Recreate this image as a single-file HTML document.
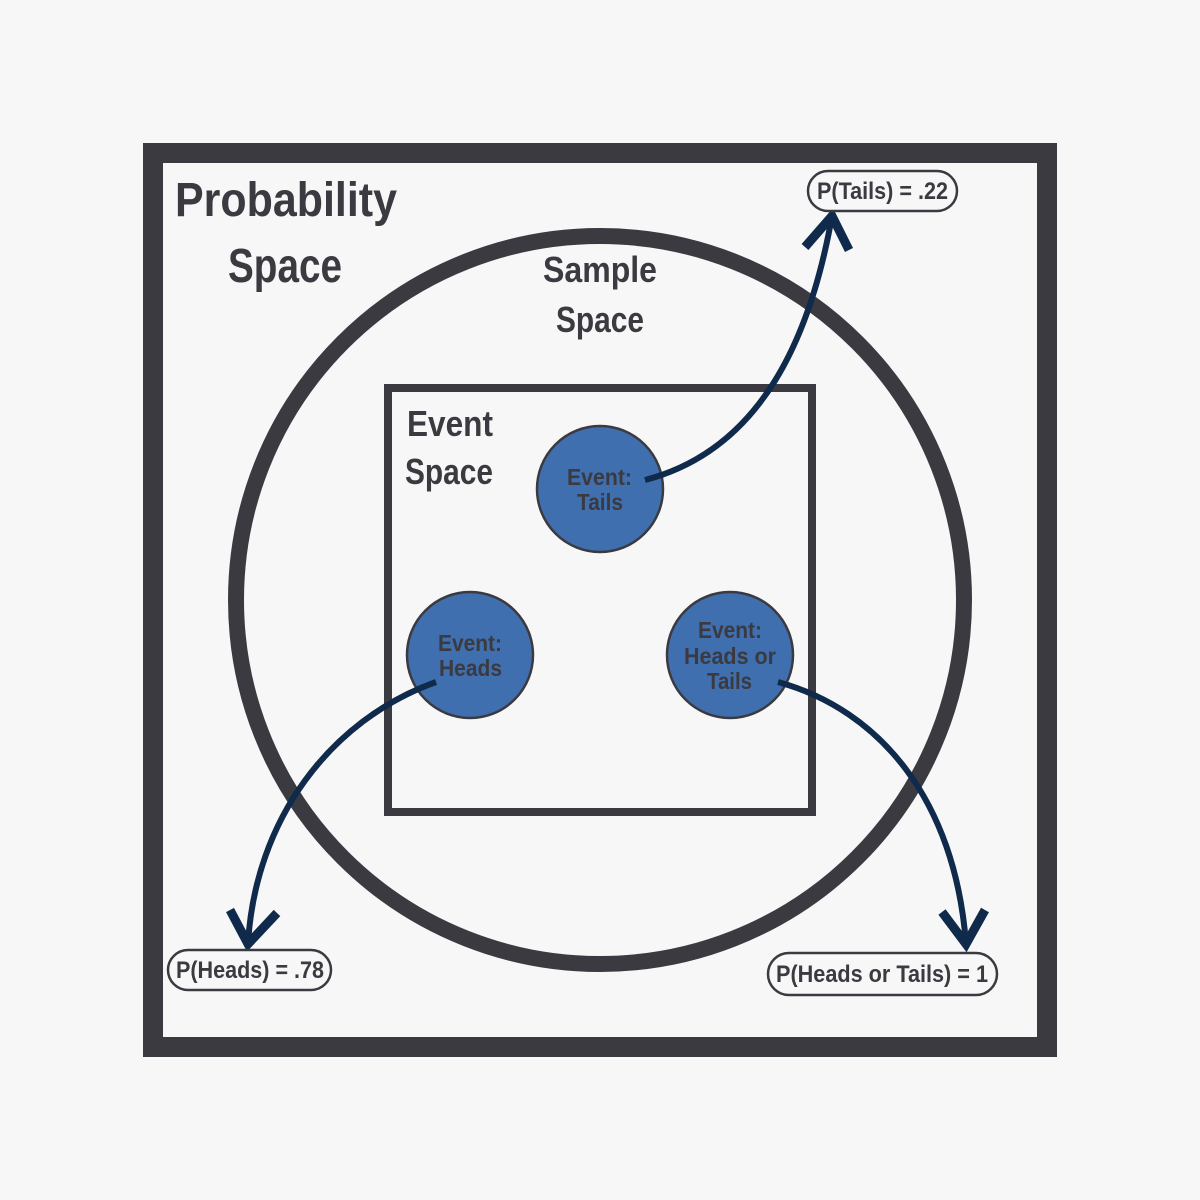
<!DOCTYPE html>
<html><head><style>
html,body{margin:0;padding:0;background:#f8f7f8;}
svg{display:block;}
text{font-family:"Liberation Sans",sans-serif;font-weight:bold;fill:#3a3a40;}
</style></head><body>
<svg width="1200" height="1200" viewBox="0 0 1200 1200" xmlns="http://www.w3.org/2000/svg">
<rect width="1200" height="1200" fill="#f8f7f8"/>
<rect x="153" y="153" width="894" height="894" fill="none" stroke="#3a3a40" stroke-width="20"/>
<circle cx="600" cy="600" r="364" fill="none" stroke="#3a3a40" stroke-width="16"/>
<rect x="388" y="388" width="424" height="424" fill="none" stroke="#3a3a40" stroke-width="8"/>
<g lengthAdjust="spacingAndGlyphs">
<text x="175" y="216" font-size="48" textLength="222" lengthAdjust="spacingAndGlyphs">Probability</text>
<text x="228" y="282" font-size="48" textLength="114" lengthAdjust="spacingAndGlyphs">Space</text>
<text x="543" y="282" font-size="36" textLength="114" lengthAdjust="spacingAndGlyphs">Sample</text>
<text x="556" y="332" font-size="36" textLength="88" lengthAdjust="spacingAndGlyphs">Space</text>
<text x="407" y="436" font-size="36" textLength="86" lengthAdjust="spacingAndGlyphs">Event</text>
<text x="405" y="484" font-size="36" textLength="88" lengthAdjust="spacingAndGlyphs">Space</text>
</g>
<g fill="#3f6fae" stroke="#3a3a40" stroke-width="2.5">
<circle cx="600" cy="489" r="63"/>
<circle cx="470" cy="655" r="63"/>
<circle cx="730" cy="655" r="63"/>
</g>
<g font-size="23">
<text x="567" y="485" textLength="65" lengthAdjust="spacingAndGlyphs">Event:</text><text x="577" y="510" textLength="46" lengthAdjust="spacingAndGlyphs">Tails</text>
<text x="438" y="651" textLength="64" lengthAdjust="spacingAndGlyphs">Event:</text><text x="439" y="676" textLength="63" lengthAdjust="spacingAndGlyphs">Heads</text>
<text x="698" y="638" textLength="64" lengthAdjust="spacingAndGlyphs">Event:</text><text x="684" y="664" textLength="92" lengthAdjust="spacingAndGlyphs">Heads or</text><text x="707" y="689" textLength="45" lengthAdjust="spacingAndGlyphs">Tails</text>
</g>
<g fill="none" stroke="#0f2a4a" stroke-width="6">
<path d="M645 480 C760 450 810 340 832 216"/>
<polyline points="805,247 832,216 849,250" stroke-width="9"/>
<path d="M436 682 C330 720 255 820 248 944"/>
<polyline points="230,910 248,944 277,913" stroke-width="9"/>
<path d="M778 682 C880 710 955 800 966 944"/>
<polyline points="942,912 966,944 985,910" stroke-width="9"/>
</g>
<g fill="#f8f7f8" stroke="#3a3a40" stroke-width="2.5">
<rect x="808" y="171" width="149" height="40" rx="20"/>
<rect x="168" y="950" width="163" height="40" rx="20"/>
<rect x="768" y="953" width="229" height="42" rx="21"/>
</g>
<g font-size="24">
<text x="817" y="199" textLength="131" lengthAdjust="spacingAndGlyphs">P(Tails) = .22</text>
<text x="176" y="978" textLength="148" lengthAdjust="spacingAndGlyphs">P(Heads) = .78</text>
<text x="776" y="982" textLength="212" lengthAdjust="spacingAndGlyphs">P(Heads or Tails) = 1</text>
</g>
</svg>
</body></html>
